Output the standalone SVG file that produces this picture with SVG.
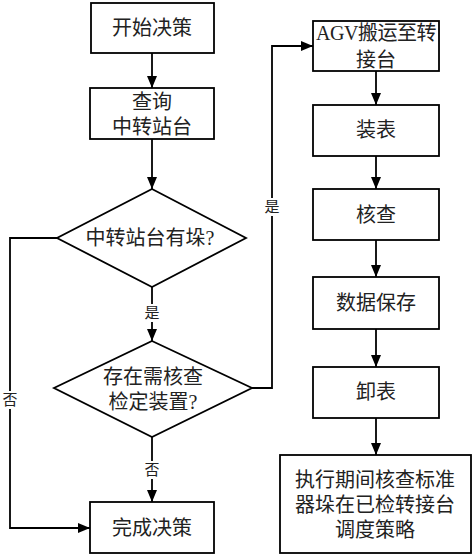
<svg xmlns="http://www.w3.org/2000/svg" width="474" height="556" viewBox="0 0 474 556">
<style>
.n{fill:#fff;stroke:#000;stroke-width:1.8}
.t{font-family:"Liberation Serif","Noto Sans CJK SC",serif;font-size:20px;fill:#222;text-anchor:middle}
.l{font-family:"Liberation Serif","Noto Sans CJK SC",serif;font-size:15px;fill:#222;text-anchor:middle}
.c{fill:none;stroke:#000;stroke-width:1.8}
</style>
<defs>
<marker id="a" markerUnits="userSpaceOnUse" markerWidth="12" markerHeight="12" viewBox="0 0 12 12" refX="12" refY="6" orient="auto">
<path d="M0,1 L12,6 L0,11 Z" fill="#000"/>
</marker>
</defs>
<rect width="474" height="556" fill="#fff"/>
<g id="connectors">
<line class="c" x1="152" y1="53" x2="152" y2="88" marker-end="url(#a)"/>
<line class="c" x1="152" y1="139" x2="152" y2="189" marker-end="url(#a)"/>
<line class="c" x1="152" y1="287" x2="152" y2="341" marker-end="url(#a)"/>
<line class="c" x1="152" y1="437" x2="152" y2="502" marker-end="url(#a)"/>
<polyline class="c" points="57,238 10,238 10,528 90,528" marker-end="url(#a)"/>
<polyline class="c" points="252,388 272,388 272,46 313,46" marker-end="url(#a)"/>
<line class="c" x1="376" y1="71" x2="376" y2="105" marker-end="url(#a)"/>
<line class="c" x1="376" y1="156" x2="376" y2="189" marker-end="url(#a)"/>
<line class="c" x1="376" y1="240" x2="376" y2="277" marker-end="url(#a)"/>
<line class="c" x1="376" y1="329" x2="376" y2="367" marker-end="url(#a)"/>
<line class="c" x1="376" y1="418" x2="376" y2="455" marker-end="url(#a)"/>
<rect x="144" y="304" width="16" height="18" fill="#fff"/>
<text class="l" x="152" y="318">是</text>
<rect x="144" y="461" width="16" height="18" fill="#fff"/>
<text class="l" x="152" y="475">否</text>
<rect x="2" y="391" width="16" height="18" fill="#fff"/>
<text class="l" x="10" y="405">否</text>
<rect x="264" y="198" width="16" height="18" fill="#fff"/>
<text class="l" x="272" y="212">是</text>
</g>
<g id="start">
<rect class="n" x="91" y="3" width="123" height="50"/>
<text class="t" x="152" y="35">开始决策</text>
</g>
<g id="query">
<rect class="n" x="90" y="88" width="124" height="51"/>
<text class="t" x="152" y="109">查询</text>
<text class="t" x="152" y="134">中转站台</text>
</g>
<g id="d1">
<polygon class="n" points="152,189 246,238 152,287 57,238"/>
<text class="t" x="150" y="245">中转站台有垛?</text>
</g>
<g id="d2">
<polygon class="n" points="152,341 252,388 152,437 54,388"/>
<text class="t" x="153" y="384">存在需核查</text>
<text class="t" x="153" y="409">检定装置?</text>
</g>
<g id="done">
<rect class="n" x="90" y="502" width="124" height="51"/>
<text class="t" x="152" y="535">完成决策</text>
</g>
<g id="agv">
<rect class="n" x="313" y="21" width="126" height="50"/>
<text class="t" x="376" y="40" style="letter-spacing:-0.5px">AGV搬运至转</text>
<text class="t" x="376" y="67">接台</text>
</g>
<g id="load">
<rect class="n" x="313" y="105" width="126" height="51"/>
<text class="t" x="376" y="137">装表</text>
</g>
<g id="check">
<rect class="n" x="313" y="189" width="126" height="51"/>
<text class="t" x="376" y="222">核查</text>
</g>
<g id="save">
<rect class="n" x="313" y="277" width="126" height="52"/>
<text class="t" x="376" y="310">数据保存</text>
</g>
<g id="unload">
<rect class="n" x="313" y="367" width="126" height="51"/>
<text class="t" x="376" y="399">卸表</text>
</g>
<g id="final">
<rect class="n" x="280" y="455" width="191" height="98"/>
<text class="t" x="375" y="487">执行期间核查标准</text>
<text class="t" x="375" y="512">器垛在已检转接台</text>
<text class="t" x="375" y="537">调度策略</text>
</g>
</svg>
